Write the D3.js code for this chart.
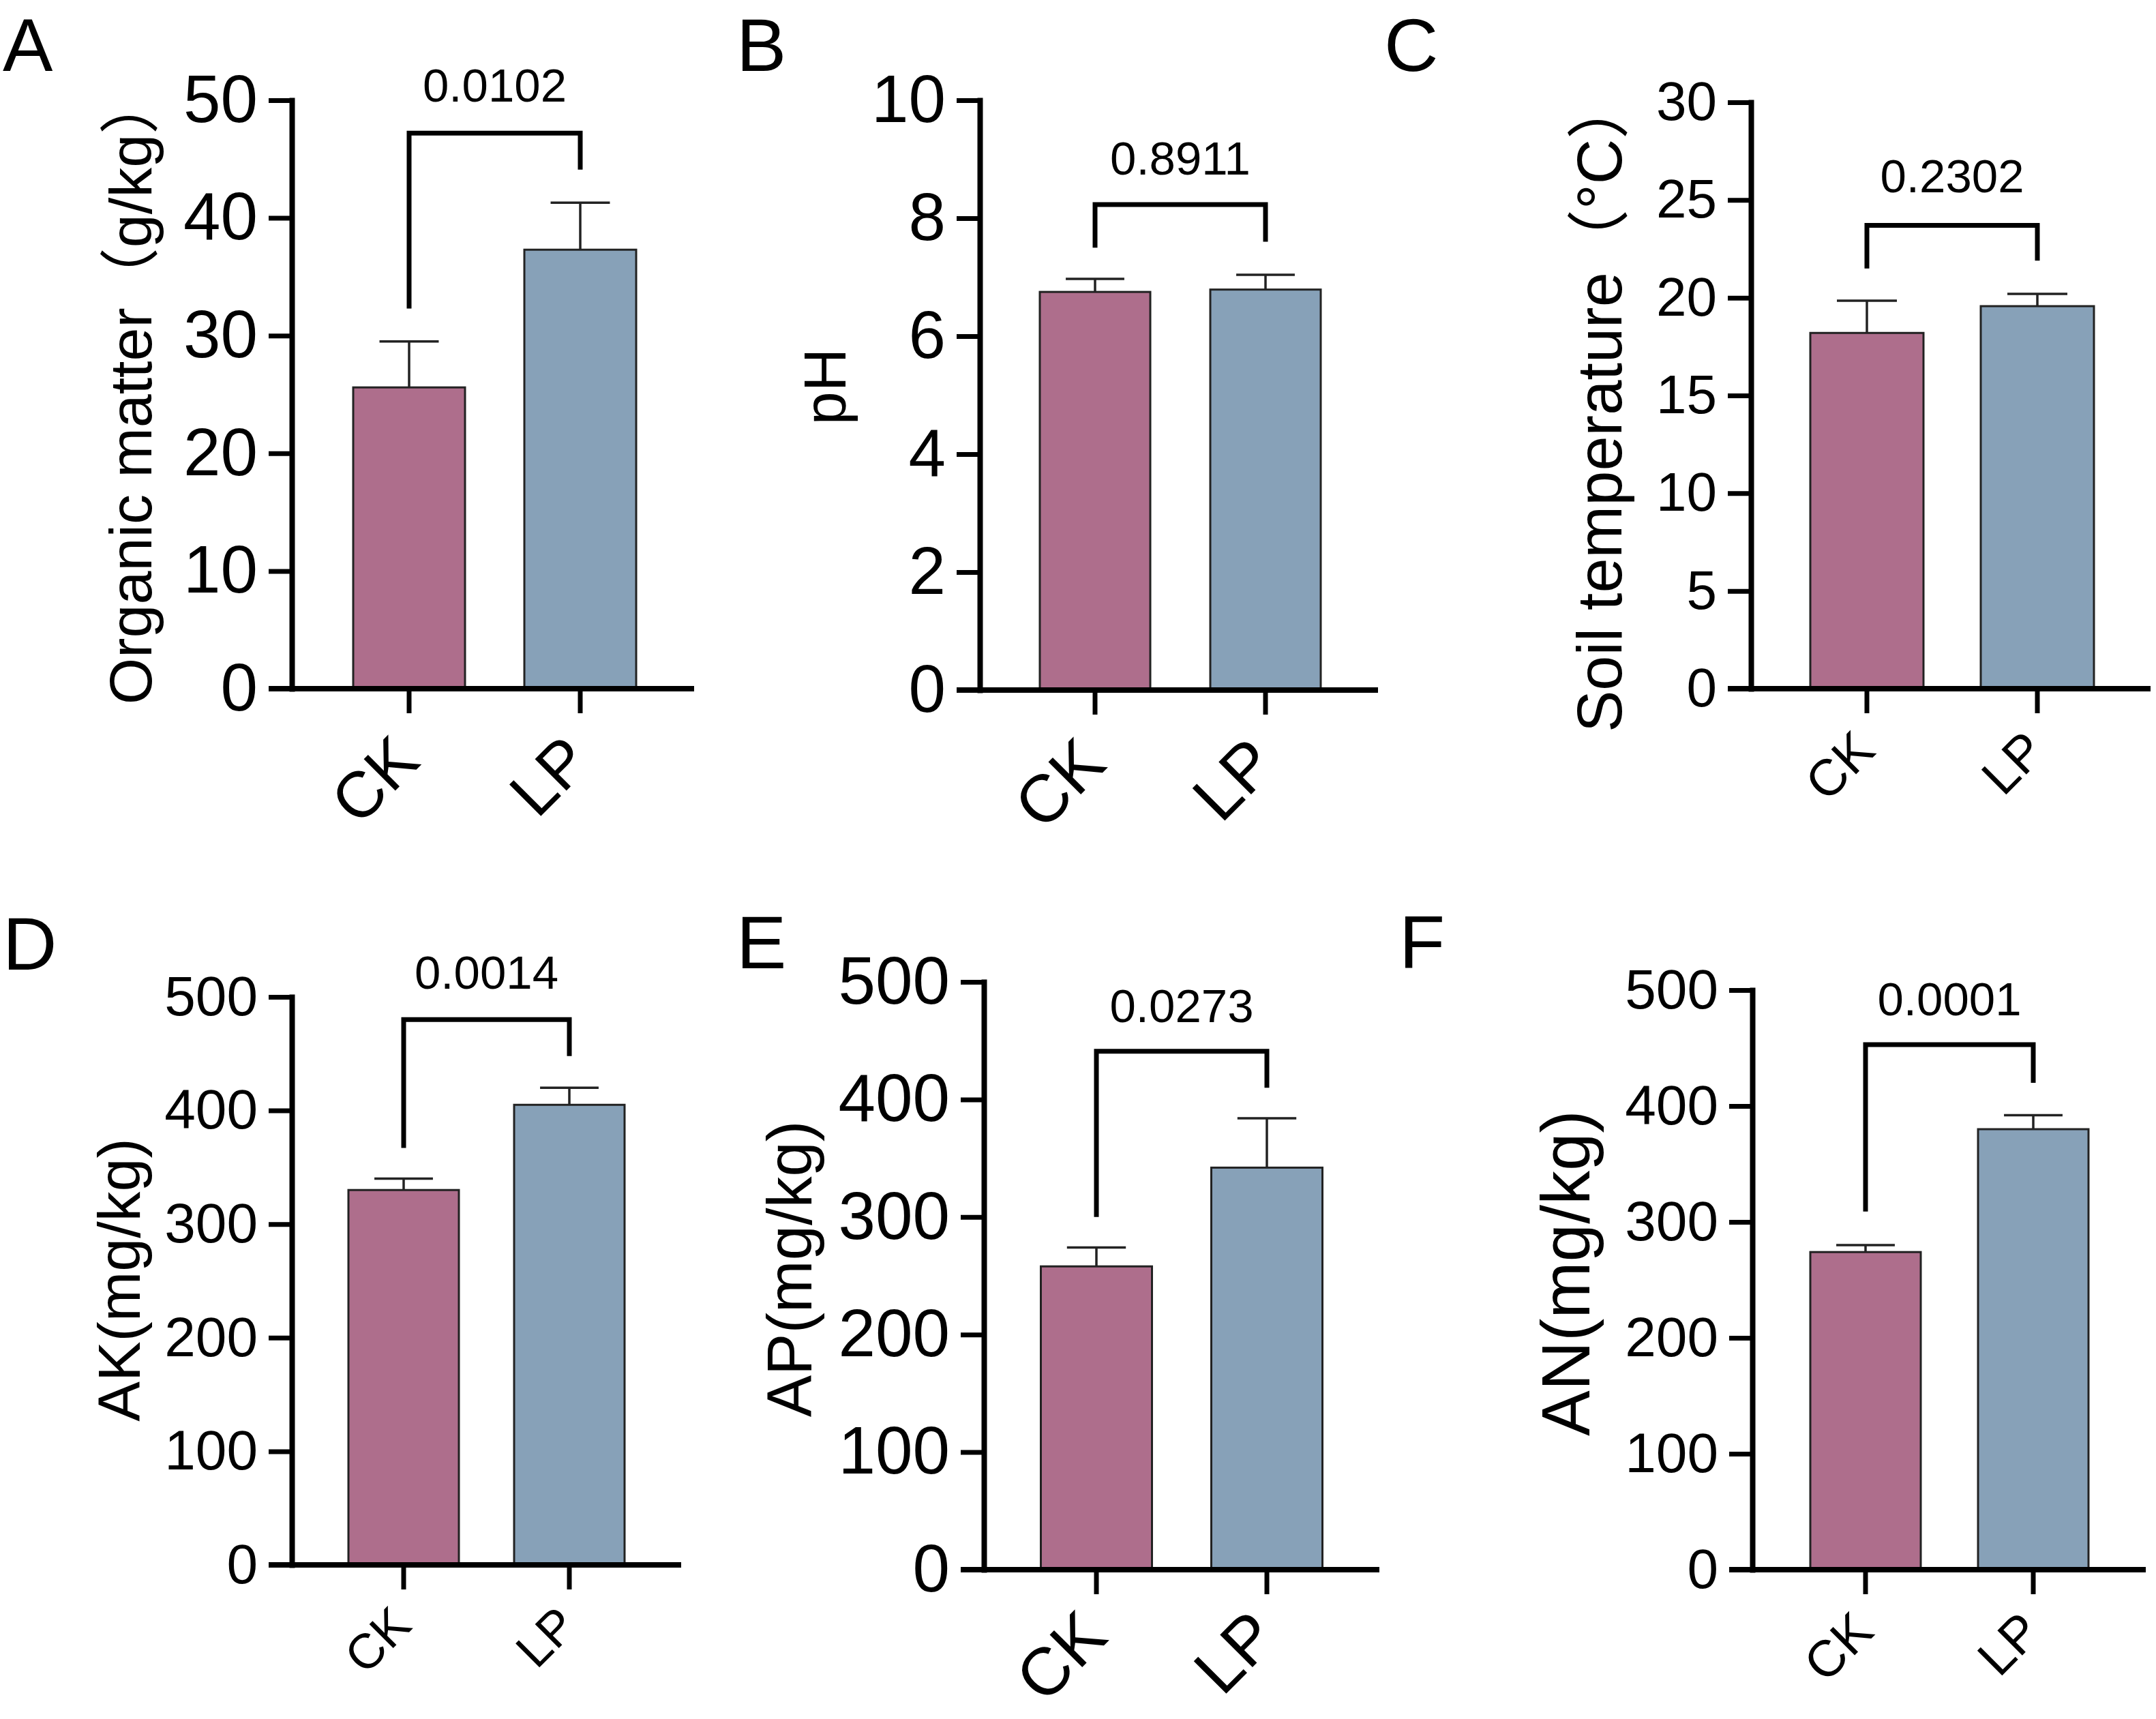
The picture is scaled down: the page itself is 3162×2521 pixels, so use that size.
<!DOCTYPE html>
<html>
<head>
<meta charset="utf-8">
<script src="https://cdn.jsdelivr.net/npm/d3@7"></script>
<style>
  html, body { margin: 0; padding: 0; background: #ffffff; }
  svg { display: block; }
  text { font-family: "Liberation Sans", Arial, "Noto Sans CJK SC", sans-serif; fill: #000; }
</style>
</head>
<body>
<script>
// ---------------- data ----------------
const categories = ["CK", "LP"];
const panelLetters = ["A", "B", "C", "D", "E", "F"];
const yTitles = ["Organic matter（g/kg）", "pH", "Soil temperature（°C）", "AK(mg/kg)", "AP(mg/kg)", "AN(mg/kg)"];
const yMax = [50, 10, 30, 500, 500, 500];
const yTickStep = [10, 2, 5, 100, 100, 100];
const meanCK = [25.6, 6.75, 18.2, 330, 258, 274];
const meanLP = [37.3, 6.79, 19.57, 405, 342, 380];
const sdCK = [3.9, 0.22, 1.65, 10, 16, 6];
const sdLP = [4.0, 0.25, 0.63, 15, 42, 12];
const pValues = ["0.0102", "0.8911", "0.2302", "0.0014", "0.0273", "0.0001"];
// bracket annotation heights in data units
const bracketTop = [47.2, 8.23, 23.7, 480, 441, 453];
const bracketEndCK = [32.3, 7.5, 21.5, 367, 300, 309];
const bracketEndLP = [44.1, 7.6, 21.9, 448, 410, 420];
const pLabelAt = [49.9, 8.74, 25.4, 507, 466, 478];

const barColors = ["#AE6E8C", "#87A1B8"];

// ---------------- layout (pixels) ----------------
const layout = [
  {axisX: 428,  xEnd: 1018, yTop: 147,  y0: 1010, cx1: 600,  step: 251, barW: 164, tickFont: 98, xFont: 95, xDy: 0.78, titleFont: 88,  titleX: 222,  titleY: 571,  lx: 4,    ly: 104},
  {axisX: 1437, xEnd: 2021, yTop: 147,  y0: 1012, cx1: 1606, step: 250, barW: 162, tickFont: 98, xFont: 98, xDy: 0.78, titleFont: 88,  titleX: 1240, titleY: 567,  lx: 1080, ly: 104},
  {axisX: 2568, xEnd: 3154, yTop: 150,  y0: 1010, cx1: 2738, step: 250, barW: 166, tickFont: 80, xFont: 75, xDy: 0.78, titleFont: 92,  titleX: 2378, titleY: 593,  lx: 2030, ly: 104},
  {axisX: 428,  xEnd: 999,  yTop: 1462, y0: 2295, cx1: 592,  step: 243, barW: 162, tickFont: 82, xFont: 72, xDy: 0.78, titleFont: 88,  titleX: 205,  titleY: 1877, lx: 4,    ly: 1422},
  {axisX: 1443, xEnd: 2023, yTop: 1440, y0: 2302, cx1: 1608, step: 250, barW: 163, tickFont: 98, xFont: 98, xDy: 0.68, titleFont: 92,  titleX: 1190, titleY: 1861, lx: 1080, ly: 1420},
  {axisX: 2570, xEnd: 3147, yTop: 1452, y0: 2302, cx1: 2736, step: 246, barW: 162, tickFont: 82, xFont: 75, xDy: 0.78, titleFont: 100, titleX: 2331, titleY: 1867, lx: 2052, ly: 1420}
];

const W = 3162, H = 2521;
const svg = d3.select("body").append("svg")
  .attr("width", W).attr("height", H)
  .attr("viewBox", `0 0 ${W} ${H}`);
svg.append("rect").attr("width", W).attr("height", H).attr("fill", "#fff");

const AXIS_W = 8, TICK_LEN = 34;

layout.forEach((L, i) => {
  const g = svg.append("g").attr("class", "panel-" + panelLetters[i]);
  const rows = categories.map((c, k) => ({
    cat: c,
    mean: k === 0 ? meanCK[i] : meanLP[i],
    sd: k === 0 ? sdCK[i] : sdLP[i],
    color: barColors[k]
  }));

  // scales
  const pad = 1 - L.barW / L.step;
  const x = d3.scaleBand()
    .domain(categories)
    .range([L.cx1 - L.step / 2, L.cx1 + L.step * 1.5])
    .paddingInner(pad)
    .paddingOuter(pad / 2);
  const y = d3.scaleLinear().domain([0, yMax[i]]).range([L.y0, L.yTop]);
  const cx = c => x(c) + x.bandwidth() / 2;

  // bars
  g.selectAll("rect.bar").data(rows).join("rect")
    .attr("class", "bar")
    .attr("x", d => x(d.cat))
    .attr("width", x.bandwidth())
    .attr("y", d => y(d.mean))
    .attr("height", d => y(0) - y(d.mean))
    .attr("fill", d => d.color)
    .attr("stroke", "#222")
    .attr("stroke-width", 3);

  // error bars (upper only)
  const capHalf = x.bandwidth() * 0.265;
  g.selectAll("line.err").data(rows).join("line")
    .attr("class", "err")
    .attr("x1", d => cx(d.cat)).attr("x2", d => cx(d.cat))
    .attr("y1", d => y(d.mean)).attr("y2", d => y(d.mean + d.sd))
    .attr("stroke", "#222").attr("stroke-width", 3.5);
  g.selectAll("line.cap").data(rows).join("line")
    .attr("class", "cap")
    .attr("x1", d => cx(d.cat) - capHalf).attr("x2", d => cx(d.cat) + capHalf)
    .attr("y1", d => y(d.mean + d.sd)).attr("y2", d => y(d.mean + d.sd))
    .attr("stroke", "#222").attr("stroke-width", 3.5);

  // y axis
  const yAxis = d3.axisLeft(y)
    .tickValues(d3.range(0, yMax[i] + yTickStep[i] / 2, yTickStep[i]))
    .tickSize(TICK_LEN)
    .tickSizeOuter(0)
    .tickPadding(16)
    .tickFormat(d3.format("d"));
  const ya = g.append("g").attr("transform", `translate(${L.axisX},0)`).call(yAxis);
  ya.select(".domain").attr("stroke", "#000").attr("stroke-width", AXIS_W)
    .attr("stroke-linecap", "square");
  ya.selectAll(".tick line").attr("stroke", "#000").attr("stroke-width", AXIS_W - 1);
  ya.selectAll(".tick text")
    .attr("font-size", L.tickFont)
    .attr("font-family", '"Liberation Sans", Arial, sans-serif')
    .attr("fill", "#000");

  // x axis
  const xAxis = d3.axisBottom(x).tickSize(36).tickSizeOuter(0).tickFormat("");
  const xa = g.append("g").attr("transform", `translate(0,${L.y0})`).call(xAxis);
  xa.select(".domain")
    .attr("d", `M${L.axisX - TICK_LEN},0H${L.xEnd}`)
    .attr("stroke", "#000").attr("stroke-width", AXIS_W);
  xa.selectAll(".tick line").attr("stroke", "#000").attr("stroke-width", AXIS_W - 1);

  // rotated category labels
  g.selectAll("text.xlab").data(categories).join("text")
    .attr("class", "xlab")
    .attr("text-anchor", "end")
    .attr("font-size", L.xFont)
    .attr("transform", c => `translate(${cx(c) + 0.2 * L.xFont},${L.y0 + 36 + L.xDy * L.xFont}) rotate(-45)`)
    .text(c => c);

  // y title
  g.append("text")
    .attr("text-anchor", "middle")
    .attr("font-size", L.titleFont)
    .attr("transform", `translate(${L.titleX},${L.titleY}) rotate(-90)`)
    .text(yTitles[i]);

  // significance bracket
  const xl = cx(categories[0]), xr = cx(categories[1]);
  g.append("path")
    .attr("d", `M${xl},${y(bracketEndCK[i])}V${y(bracketTop[i])}H${xr}V${y(bracketEndLP[i])}`)
    .attr("fill", "none").attr("stroke", "#000").attr("stroke-width", 7)
    .attr("stroke-linejoin", "miter");
  g.append("text")
    .attr("x", (xl + xr) / 2)
    .attr("y", y(pLabelAt[i]))
    .attr("text-anchor", "middle")
    .attr("font-size", 69)
    .text(pValues[i]);

  // panel letter
  g.append("text")
    .attr("x", L.lx).attr("y", L.ly)
    .attr("font-size", 110)
    .text(panelLetters[i]);
});
</script>
</body>
</html>
